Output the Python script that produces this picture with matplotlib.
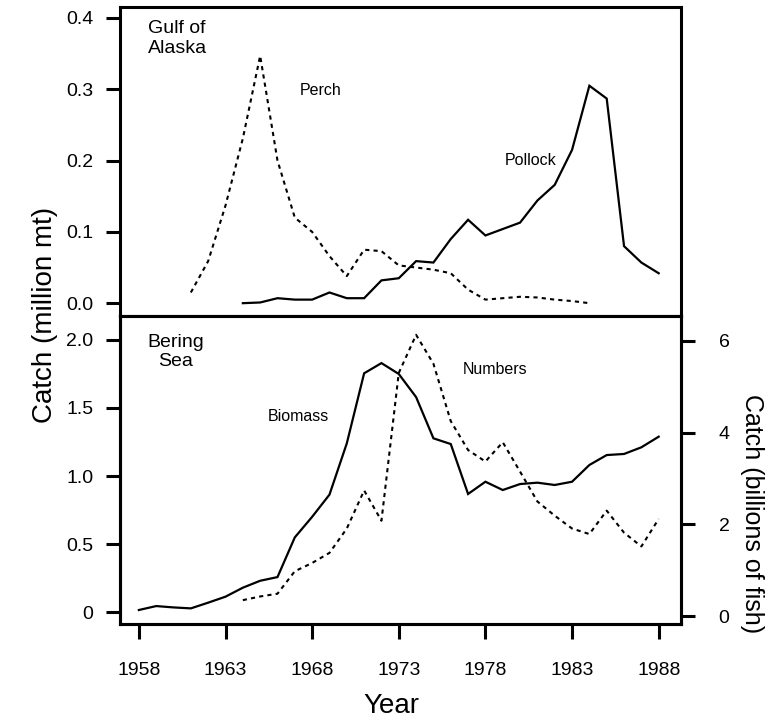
import matplotlib
matplotlib.use('Agg')
import matplotlib.pyplot as plt

plt.rcParams['font.family'] = ['Liberation Sans', 'DejaVu Sans']

# ---- data ----
perch_years = list(range(1961, 1985))
perch = [0.015, 0.059, 0.137, 0.231, 0.347, 0.200, 0.120, 0.100, 0.066, 0.038,
         0.075, 0.073, 0.053, 0.050, 0.047, 0.042, 0.019, 0.005, 0.007, 0.009,
         0.008, 0.005, 0.003, 0.000]

pollock_goa_years = list(range(1964, 1989))
pollock_goa = [0.000, 0.001, 0.007, 0.005, 0.005, 0.015, 0.007, 0.007, 0.032, 0.035,
               0.059, 0.057, 0.090, 0.117, 0.095, 0.104, 0.113, 0.144, 0.166, 0.215,
               0.305, 0.287, 0.080, 0.057, 0.042]

biomass_years = list(range(1958, 1989))
biomass = [0.015, 0.044, 0.034, 0.027, 0.069, 0.113, 0.179, 0.230, 0.257, 0.549,
           0.700, 0.863, 1.240, 1.755, 1.830, 1.750, 1.580, 1.277, 1.235, 0.868,
           0.958, 0.897, 0.941, 0.951, 0.934, 0.958, 1.081, 1.154, 1.162, 1.211,
           1.289]

numbers_years = list(range(1964, 1989))
numbers = [0.35, 0.43, 0.49, 0.98, 1.16, 1.38, 1.91, 2.74, 2.08, 5.30,
           6.13, 5.50, 4.25, 3.62, 3.37, 3.79, 3.15, 2.50, 2.19, 1.91,
           1.79, 2.30, 1.82, 1.52, 2.12]

year_ticks = [1958, 1963, 1968, 1973, 1978, 1983, 1988]
top_ticks = [0.0, 0.1, 0.2, 0.3, 0.4]
top_tick_labels = ['0.0', '0.1', '0.2', '0.3', '0.4']
bot_ticks = [0, 0.5, 1.0, 1.5, 2.0]
bot_tick_labels = ['0', '0.5', '1.0', '1.5', '2.0']
right_ticks = [0, 2, 4, 6]
right_tick_labels = ['0', '2', '4', '6']

# ---- figure ----
fig = plt.figure(figsize=(7.68, 7.23), dpi=100)
ax1 = fig.add_axes([0.156, 0.5629, 0.731, 0.4274])
ax2 = fig.add_axes([0.156, 0.1369, 0.731, 0.4260])
ax3 = ax2.twinx()

dot = (0, (2, 2))
solid_kw = dict(color='black', lw=1.6, solid_joinstyle='miter')
dot_kw = dict(color='black', lw=1.5, ls=dot)

ax1.plot(perch_years, perch, **dot_kw)
ax1.plot(pollock_goa_years, pollock_goa, **solid_kw)
ax2.plot(biomass_years, biomass, **solid_kw)
ax3.plot(numbers_years, numbers, **dot_kw)

xlim = (1956.9, 1989.3)
ax1.set_xlim(*xlim)
ax2.set_xlim(*xlim)
ax1.set_ylim(-0.018, 0.4154)
ax2.set_ylim(-0.088, 2.176)
ax3.set_ylim(-0.17, 6.54)

for ax in (ax1, ax2, ax3):
    for sp in ax.spines.values():
        sp.set_linewidth(2.2)

ax1.set_xticks([])
ax1.set_yticks(top_ticks)
ax1.set_yticklabels(top_tick_labels)
ax2.set_yticks(bot_ticks)
ax2.set_yticklabels(bot_tick_labels)
ax2.set_xticks(year_ticks)
ax2.set_xticklabels([str(y) for y in year_ticks])
ax3.set_yticks(right_ticks)
ax3.set_yticklabels(right_tick_labels)

ax1.tick_params(axis='y', direction='out', length=10, width=2.2, labelsize=14, pad=9)
ax2.tick_params(axis='y', direction='out', length=10, width=2.2, labelsize=14, pad=9)
ax2.tick_params(axis='x', direction='out', length=11, width=2.2, labelsize=14, pad=16)
ax3.tick_params(axis='y', direction='out', length=10, width=2.2, labelsize=14, pad=17)

# ---- annotations ----
ax1.text(1958.5, 0.397, 'Gulf of\nAlaska', fontsize=14, ha='left', va='top',
         linespacing=1.2)
ax1.text(1968.5, 0.299, 'Perch', fontsize=11.5, ha='center', va='center')
ax1.text(1980.6, 0.200, 'Pollock', fontsize=11.5, ha='center', va='center')
ax2.text(1960.1, 1.91, 'Bering\nSea', fontsize=14, ha='center', va='center',
         linespacing=1.15, multialignment='center')
ax2.text(1967.2, 1.436, 'Biomass', fontsize=11.5, ha='center', va='center')
ax2.text(1978.55, 1.78, 'Numbers', fontsize=11.5, ha='center', va='center')

fig.text(0.059, 0.565, 'Catch (million mt)', rotation=90, fontsize=20,
         ha='center', va='center')
fig.text(0.979, 0.289, 'Catch (billions of fish)', rotation=270, fontsize=18,
         ha='center', va='center')
fig.text(0.509, 0.023, 'Year', fontsize=20, ha='center', va='center')

fig.savefig('out.png', dpi=100)
